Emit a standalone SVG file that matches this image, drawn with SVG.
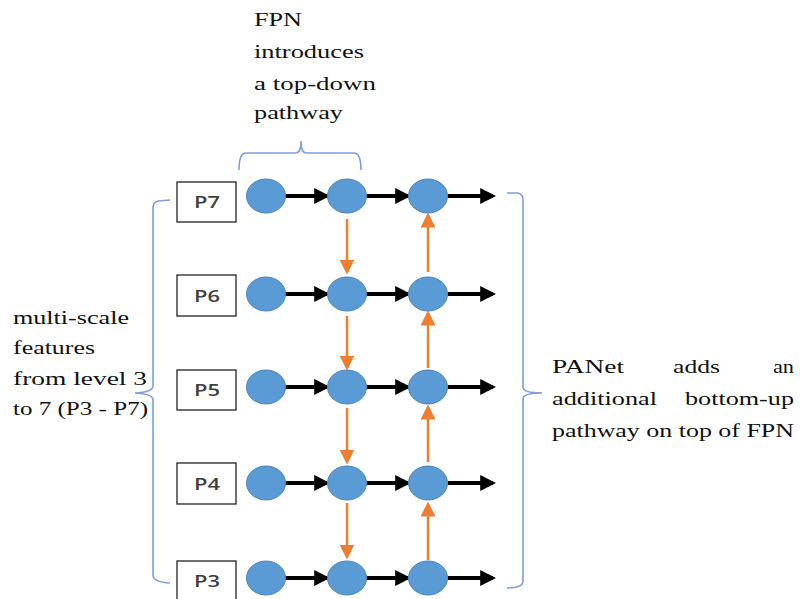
<svg xmlns="http://www.w3.org/2000/svg" width="800" height="599" viewBox="0 0 800 599">
<defs>
<marker id="ab" markerWidth="4" markerHeight="4" refX="3.2" refY="2" orient="auto" markerUnits="strokeWidth"><path d="M0,0 L4,2 L0,4 Z" fill="#000"/></marker>
<marker id="ao" markerWidth="6" markerHeight="6" refX="5" refY="3" orient="auto" markerUnits="strokeWidth"><path d="M0,0 L6,3 L0,6 Z" fill="#ED7D31"/></marker>
</defs>
<style>
.n{fill:#5B9BD5;stroke:#4A85BE;stroke-width:1}
.lb{fill:#fff;stroke:#222;stroke-width:1.3}
.lt{font-family:"Open Sans","Liberation Sans",sans-serif;font-size:17px;font-weight:600;fill:#404040;text-anchor:middle}
.bk{stroke:#000;stroke-width:4;fill:none;marker-end:url(#ab)}
.or{stroke:#ED7D31;stroke-width:2.5;fill:none;marker-end:url(#ao)}
.br{stroke:#7A9FDC;stroke-width:1.6;fill:none}
.tx{font-family:"Liberation Serif","DejaVu Serif",serif;font-size:19.5px;fill:#111}
</style>
<rect width="800" height="599" fill="#fff"/>
<g id="braces">
<path class="br" d="M239,170 Q239,153 246,153 L296,153 Q301,153 301,141 Q301,153 306,153 L354,153 Q361,153 361,170"/>
<path class="br" d="M170,200 L158,201 Q153,202 153,208 L153,386 Q153,392 135,393 Q153,394 153,400 L153,575 Q153,582 170,583"/>
<path class="br" d="M507,193 L518,193 Q523,194 523,200 L523,387 Q523,393 542,393 Q523,393 523,399 L523,581 Q523,588 507,588"/>
</g>
<g id="texts">
<text class="tx" x="254" y="26" textLength="48" lengthAdjust="spacingAndGlyphs">FPN</text>
<text class="tx" x="254" y="58" textLength="110" lengthAdjust="spacingAndGlyphs">introduces</text>
<text class="tx" x="254" y="90" textLength="122" lengthAdjust="spacingAndGlyphs">a top-down</text>
<text class="tx" x="254" y="119" textLength="89" lengthAdjust="spacingAndGlyphs">pathway</text>
<text class="tx" x="13" y="324" textLength="116" lengthAdjust="spacingAndGlyphs">multi-scale</text>
<text class="tx" x="13" y="354" textLength="82" lengthAdjust="spacingAndGlyphs">features</text>
<text class="tx" x="13" y="385" textLength="134" lengthAdjust="spacingAndGlyphs">from level 3</text>
<text class="tx" x="13" y="415" textLength="135" lengthAdjust="spacingAndGlyphs">to 7 (P3 - P7)</text>
<text class="tx" x="552" y="373" textLength="72" lengthAdjust="spacingAndGlyphs">PANet</text>
<text class="tx" x="673" y="373" textLength="47" lengthAdjust="spacingAndGlyphs">adds</text>
<text class="tx" x="773" y="373" textLength="21" lengthAdjust="spacingAndGlyphs">an</text>
<text class="tx" x="552" y="405" textLength="105" lengthAdjust="spacingAndGlyphs">additional</text>
<text class="tx" x="685" y="405" textLength="109" lengthAdjust="spacingAndGlyphs">bottom-up</text>
<text class="tx" x="552" y="437" textLength="242" lengthAdjust="spacingAndGlyphs">pathway on top of FPN</text>
</g>
<g id="labels">
<g id="lP7"><rect class="lb" x="177" y="182" width="59" height="40"/><text class="lt" x="207" y="208" textLength="26" lengthAdjust="spacingAndGlyphs">P7</text></g>
<g id="lP6"><rect class="lb" x="177" y="275" width="59" height="41"/><text class="lt" x="207" y="302" textLength="26" lengthAdjust="spacingAndGlyphs">P6</text></g>
<g id="lP5"><rect class="lb" x="177" y="370" width="59" height="40"/><text class="lt" x="207" y="396" textLength="26" lengthAdjust="spacingAndGlyphs">P5</text></g>
<g id="lP4"><rect class="lb" x="177" y="463" width="59" height="41"/><text class="lt" x="207" y="490" textLength="26" lengthAdjust="spacingAndGlyphs">P4</text></g>
<g id="lP3"><rect class="lb" x="177" y="561" width="59" height="42"/><text class="lt" x="207" y="587" textLength="26" lengthAdjust="spacingAndGlyphs">P3</text></g>
</g>
<g id="connectors">
<line class="bk" x1="285" y1="196" x2="327" y2="196"/><line class="bk" x1="366" y1="196" x2="408" y2="196"/><line class="bk" x1="448" y1="196" x2="493" y2="196"/>
<line class="bk" x1="285" y1="294" x2="327" y2="294"/><line class="bk" x1="366" y1="294" x2="408" y2="294"/><line class="bk" x1="448" y1="294" x2="493" y2="294"/>
<line class="bk" x1="285" y1="387" x2="327" y2="387"/><line class="bk" x1="366" y1="387" x2="408" y2="387"/><line class="bk" x1="448" y1="387" x2="493" y2="387"/>
<line class="bk" x1="285" y1="483" x2="327" y2="483"/><line class="bk" x1="366" y1="483" x2="408" y2="483"/><line class="bk" x1="448" y1="483" x2="493" y2="483"/>
<line class="bk" x1="285" y1="578" x2="327" y2="578"/><line class="bk" x1="366" y1="578" x2="408" y2="578"/><line class="bk" x1="448" y1="578" x2="493" y2="578"/>
<line class="or" x1="347" y1="219" x2="347" y2="272"/>
<line class="or" x1="347" y1="316" x2="347" y2="368"/>
<line class="or" x1="347" y1="408" x2="347" y2="462"/>
<line class="or" x1="347" y1="503" x2="347" y2="557"/>
<line class="or" x1="428" y1="272" x2="428" y2="215"/>
<line class="or" x1="428" y1="368" x2="428" y2="313"/>
<line class="or" x1="428" y1="462" x2="428" y2="407"/>
<line class="or" x1="428" y1="560" x2="428" y2="504"/>
</g>
<g id="nodes">
<ellipse id="n71" class="n" cx="266" cy="196" rx="19.5" ry="17"/><ellipse id="n72" class="n" cx="347" cy="196" rx="19.5" ry="17"/><ellipse id="n73" class="n" cx="428" cy="196" rx="19.5" ry="17"/>
<ellipse id="n61" class="n" cx="266" cy="294" rx="19.5" ry="17"/><ellipse id="n62" class="n" cx="347" cy="294" rx="19.5" ry="17"/><ellipse id="n63" class="n" cx="428" cy="294" rx="19.5" ry="17"/>
<ellipse id="n51" class="n" cx="266" cy="387" rx="19.5" ry="17"/><ellipse id="n52" class="n" cx="347" cy="387" rx="19.5" ry="17"/><ellipse id="n53" class="n" cx="428" cy="387" rx="19.5" ry="17"/>
<ellipse id="n41" class="n" cx="266" cy="483" rx="19.5" ry="17"/><ellipse id="n42" class="n" cx="347" cy="483" rx="19.5" ry="17"/><ellipse id="n43" class="n" cx="428" cy="483" rx="19.5" ry="17"/>
<ellipse id="n31" class="n" cx="266" cy="578" rx="19.5" ry="17"/><ellipse id="n32" class="n" cx="347" cy="578" rx="19.5" ry="17"/><ellipse id="n33" class="n" cx="428" cy="578" rx="19.5" ry="17"/>
</g>
</svg>
